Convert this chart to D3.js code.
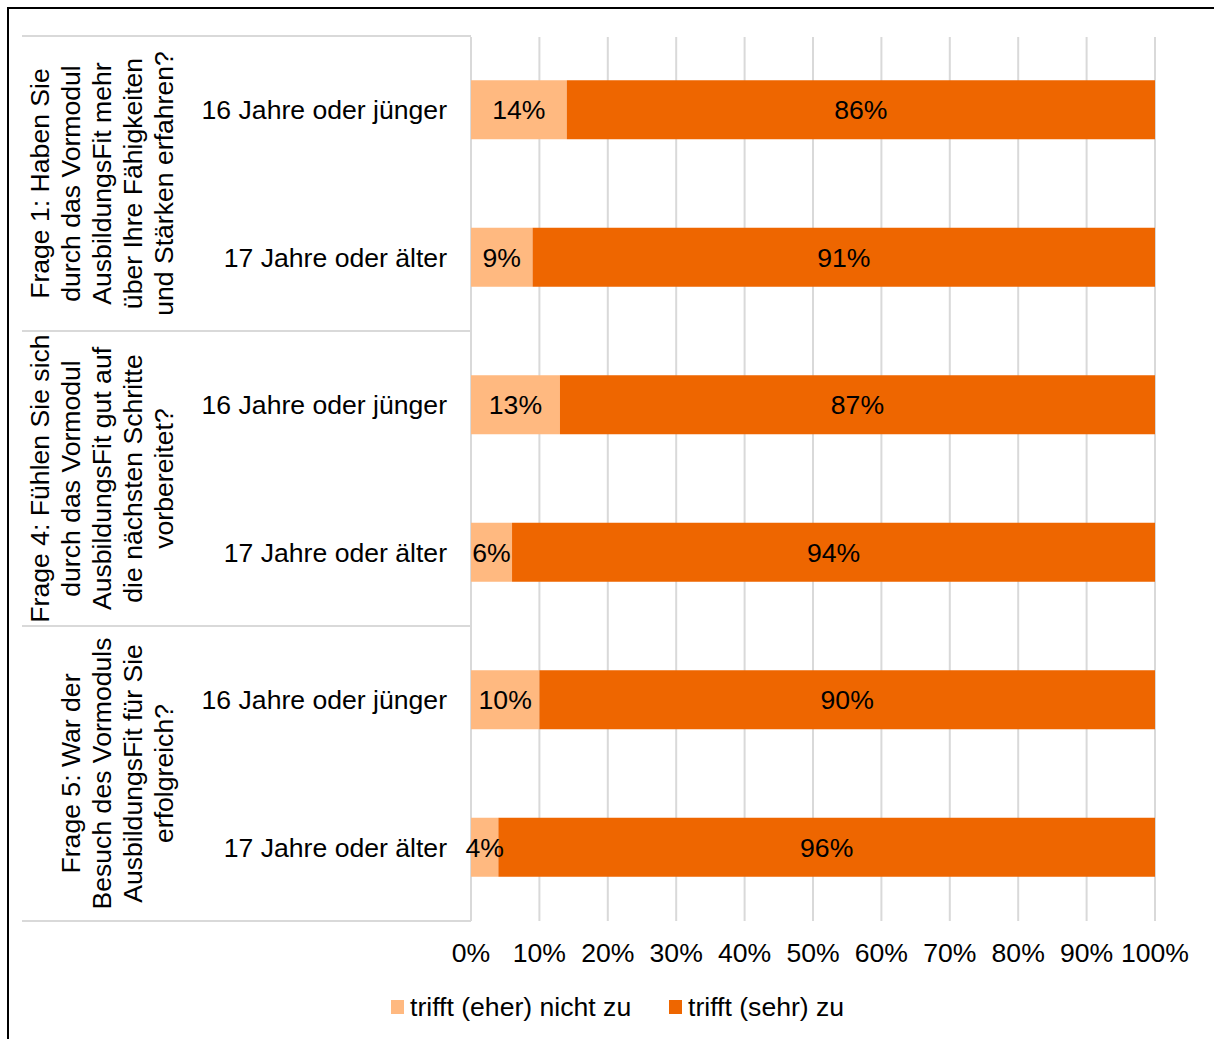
<!DOCTYPE html>
<html>
<head>
<meta charset="utf-8">
<script src="https://cdn.jsdelivr.net/npm/d3@7"></script>
<style>
  html, body { margin: 0; padding: 0; background: #fff; }
  svg { display: block; font-family: "Liberation Sans", Arial, sans-serif; }
</style>
</head>
<body>
<svg id="chart" width="1214" height="1039"></svg>
<script>
// Question groups (each label split into its wrapped lines)
const questions = [
  ["Frage 1: Haben Sie", "durch das Vormodul", "AusbildungsFit mehr", "über Ihre Fähigkeiten", "und Stärken erfahren?"],
  ["Frage 4: Fühlen Sie sich", "durch das Vormodul", "AusbildungsFit gut auf", "die nächsten Schritte", "vorbereitet?"],
  ["Frage 5: War der", "Besuch des Vormoduls", "AusbildungsFit für Sie", "erfolgreich?"]
];
const ageGroups = ["16 Jahre oder jünger", "17 Jahre oder älter"];

// Share of answers per row (question × age group), in percent
const notAgree = [14, 9, 13, 6, 10, 4];
const agree = [86, 91, 87, 94, 90, 96];

const seriesNames = ["trifft (eher) nicht zu", "trifft (sehr) zu"];
const seriesColors = ["#FFB980", "#EE6600"];
const tickValues = [0, 10, 20, 30, 40, 50, 60, 70, 80, 90, 100];

const rows = [];
questions.forEach((q, qi) => {
  ageGroups.forEach((a, ai) => {
    const i = qi * ageGroups.length + ai;
    rows.push({ id: i, question: qi, age: a, s0: notAgree[i], s1: agree[i] });
  });
});

const svg = d3.select("#chart");
const fontSize = 26.6;
const gridColor = "#d9d9d9";

// Outer frame (top and left edges visible)
svg.append("path")
  .attr("d", "M8,1045 L8,8 L1220,8")
  .attr("fill", "none")
  .attr("stroke", "#000")
  .attr("stroke-width", 2);

const plotTop = 36, plotBottom = 921;
const x = d3.scaleLinear().domain([0, 100]).range([471, 1155]);
const y = d3.scaleBand()
  .domain(rows.map(d => d.id))
  .range([plotTop, plotBottom])
  .paddingInner(0.6)
  .paddingOuter(0.3);

// Vertical gridlines
svg.append("g")
  .selectAll("line")
  .data(tickValues)
  .join("line")
  .attr("x1", d => x(d)).attr("x2", d => x(d))
  .attr("y1", plotTop + 1).attr("y2", plotBottom)
  .attr("stroke", gridColor)
  .attr("stroke-width", 2);

// Group separator lines in the category area
const groupSpan = (plotBottom - plotTop) / questions.length;
const sepY = d3.range(questions.length + 1).map(i => plotTop + i * groupSpan);
svg.append("g")
  .selectAll("line")
  .data(sepY)
  .join("line")
  .attr("x1", 22).attr("x2", x(0))
  .attr("y1", d => d).attr("y2", d => d)
  .attr("stroke", gridColor)
  .attr("stroke-width", 2);

// Stacked bars
const stack = d3.stack().keys(["s0", "s1"]);
const stacked = stack(rows);

svg.append("g")
  .selectAll("g")
  .data(stacked)
  .join("g")
  .attr("fill", (d, i) => seriesColors[i])
  .selectAll("rect")
  .data(d => d)
  .join("rect")
  .attr("x", d => x(d[0]))
  .attr("width", d => x(d[1]) - x(d[0]))
  .attr("y", d => y(d.data.id))
  .attr("height", y.bandwidth());

// Value labels centred in each segment, drawn above all bars
const labelData = stacked.flatMap(layer => layer.map(v => ({ v, key: layer.key })));
svg.append("g")
  .selectAll("text")
  .data(labelData)
  .join("text")
  .attr("x", d => (x(d.v[0]) + x(d.v[1])) / 2)
  .attr("y", d => y(d.v.data.id) + y.bandwidth() / 2)
  .attr("dy", "0.35em")
  .attr("text-anchor", "middle")
  .attr("font-size", fontSize)
  .attr("fill", "#000")
  .text(d => d.v.data[d.key] + "%");

// Age group labels
svg.append("g")
  .selectAll("text")
  .data(rows)
  .join("text")
  .attr("x", 447)
  .attr("y", d => y(d.id) + y.bandwidth() / 2)
  .attr("dy", "0.35em")
  .attr("text-anchor", "end")
  .attr("font-size", fontSize)
  .attr("fill", "#000")
  .text(d => d.age);

// Rotated question labels
const lineGap = 31;
const lastBaseline = 173;
questions.forEach((lines, qi) => {
  const cy = plotTop + (qi + 0.5) * groupSpan;
  const g = svg.append("g");
  lines.forEach((line, li) => {
    const bx = lastBaseline - (lines.length - 1 - li) * lineGap;
    g.append("text")
      .attr("transform", `translate(${bx},${cy}) rotate(-90)`)
      .attr("text-anchor", "middle")
      .attr("font-size", fontSize)
      .attr("fill", "#000")
      .text(line);
  });
});

// X axis tick labels
svg.append("g")
  .selectAll("text")
  .data(tickValues)
  .join("text")
  .attr("x", d => x(d))
  .attr("y", 953)
  .attr("dy", "0.35em")
  .attr("text-anchor", "middle")
  .attr("font-size", fontSize)
  .attr("fill", "#000")
  .text(d => d + "%");

// Legend
const legendX = [391, 669];
const legend = svg.append("g")
  .selectAll("g")
  .data(seriesNames)
  .join("g")
  .attr("transform", (d, i) => `translate(${legendX[i]},1007)`);
legend.append("rect")
  .attr("x", 0).attr("y", -7)
  .attr("width", 13).attr("height", 14)
  .attr("fill", (d, i) => seriesColors[i]);
legend.append("text")
  .attr("x", 19)
  .attr("dy", "0.35em")
  .attr("font-size", fontSize)
  .attr("fill", "#000")
  .text(d => d);
</script>
</body>
</html>
